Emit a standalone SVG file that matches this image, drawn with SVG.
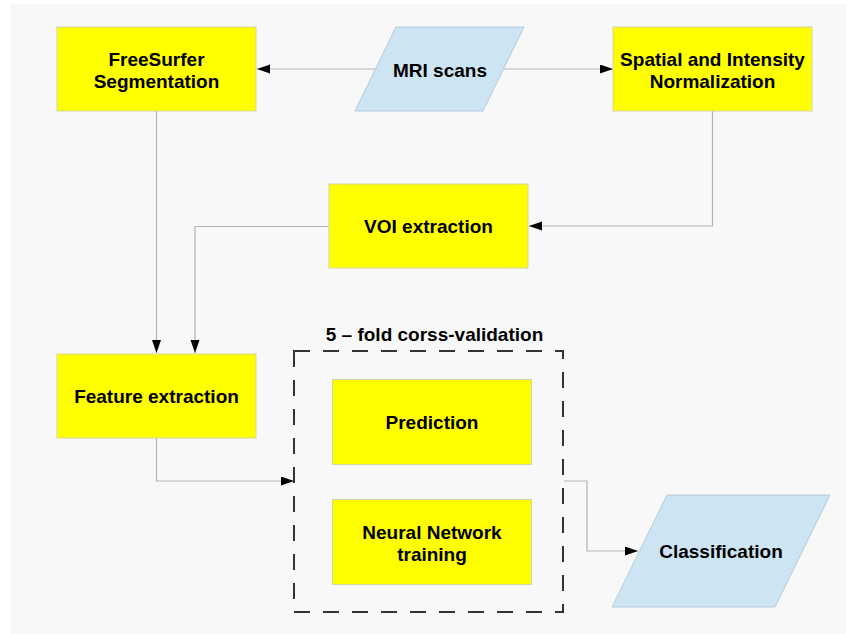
<svg xmlns="http://www.w3.org/2000/svg" width="846" height="634" viewBox="0 0 846 634">
<defs>
<marker id="arr" markerUnits="userSpaceOnUse" markerWidth="14" markerHeight="10" refX="13" refY="4.5" orient="auto">
<path d="M0,0 L13,4.5 L0,9 z" fill="#000"/>
</marker>
<style>
.box{fill:#ffff00;stroke:#d6d6a0;stroke-width:1}
.para{fill:#cde4f2;stroke:#b4cadb;stroke-width:1}
.t{font-family:"Liberation Sans",Arial,sans-serif;font-weight:bold;font-size:19px;fill:#000;text-anchor:middle}
.c{fill:none;stroke:#b3b3b3;stroke-width:1.2;marker-end:url(#arr)}
</style>
</defs>
<rect x="0" y="0" width="846" height="634" fill="#ffffff"/>
<rect x="10" y="4" width="836" height="630" fill="#f8f8f8"/>

<g id="connectors">
<path class="c" d="M375,69 H257"/>
<path class="c" d="M504,69 H613"/>
<path class="c" d="M156.5,111 V353"/>
<path class="c" d="M712.5,111 V226 H529"/>
<path class="c" d="M329,226.5 H195 V353"/>
<path class="c" d="M156.5,438 V481 H294"/>
<path class="c" d="M564,481 H587 V551 H638"/>
</g>

<g id="freesurfer">
<rect class="box" x="57" y="27" width="199" height="84"/>
<text class="t" x="156.5" y="65.5">FreeSurfer</text>
<text class="t" x="156.5" y="87.5">Segmentation</text>
</g>

<g id="mri">
<polygon class="para" points="396,27 524,27 483,111 355,111"/>
<text class="t" x="440" y="76.5">MRI scans</text>
</g>

<g id="spatial">
<rect class="box" x="613" y="27" width="199" height="84"/>
<text class="t" x="712.5" y="65.5">Spatial and Intensity</text>
<text class="t" x="712.5" y="87.5">Normalization</text>
</g>

<g id="voi">
<rect class="box" x="329" y="184" width="199" height="84"/>
<text class="t" x="428.5" y="232.5">VOI extraction</text>
</g>

<g id="feature">
<rect class="box" x="57" y="354" width="199" height="84"/>
<text class="t" x="156.5" y="402.5">Feature extraction</text>
</g>

<g id="crossval">
<rect x="294" y="351" width="269" height="261" fill="none" stroke="#333" stroke-width="2" stroke-dasharray="16 13"/>
<text class="t" x="434.5" y="340.5">5 – fold corss-validation</text>
</g>

<g id="prediction">
<rect class="box" x="332.5" y="379.5" width="199" height="85"/>
<text class="t" x="432" y="428.5">Prediction</text>
</g>

<g id="nn">
<rect class="box" x="332.5" y="499.5" width="199" height="85"/>
<text class="t" x="432" y="538.5">Neural Network</text>
<text class="t" x="432" y="560.5">training</text>
</g>

<g id="classification">
<polygon class="para" points="667,495 830,495 775,607 612,607"/>
<text class="t" x="721" y="557.5">Classification</text>
</g>
</svg>
